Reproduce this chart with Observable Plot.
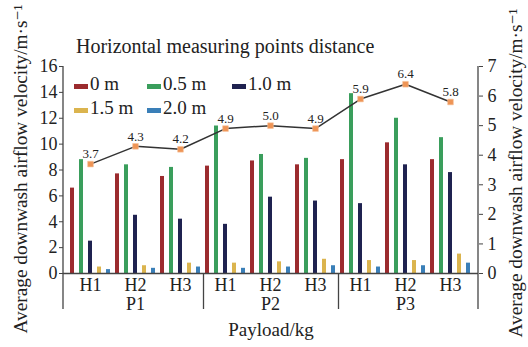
<!DOCTYPE html>
<html>
<head>
<meta charset="utf-8">
<script src="https://cdn.jsdelivr.net/npm/d3@7"></script>
<script src="https://cdn.jsdelivr.net/npm/@observablehq/plot@0.6"></script>
<style>
  html, body { margin: 0; padding: 0; background: #fff; }
  #chart { position: relative; width: 528px; height: 347px; font-family: "Liberation Serif", "DejaVu Serif", serif; color: #222; }
  #chart svg { display: block; }
  .title { position: absolute; left: 76px; top: 35px; font-size: 20px; white-space: nowrap; }
  .legend { position: absolute; left: 74px; top: 72px; font-size: 19px; }
  .legend .row { display: flex; height: 24px; align-items: center; }
  .legend .item { display: flex; align-items: center; white-space: nowrap; }
  .legend .sw { width: 14px; height: 5px; margin-right: 2px; margin-top: 4px; }
</style>
</head>
<body>
<div id="chart"></div>
<script>
// Payload levels, measuring heights and horizontal distances of the measuring points
const payloads = ["P1", "P2", "P3"];
const heights = ["H1", "H2", "H3"];
const distances = ["0 m", "0.5 m", "1.0 m", "1.5 m", "2.0 m"];
const colors = ["#9b2b2e", "#3a9e5c", "#1f2250", "#dbb44e", "#3a7fb8"];

// Downwash airflow velocity (m/s) per distance, ordered P1H1..P1H3, P2H1..P2H3, P3H1..P3H3
const v0m = [6.6, 7.7, 7.5, 8.3, 8.7, 8.4, 8.8, 10.1, 8.8];
const v05m = [8.8, 8.4, 8.2, 11.4, 9.2, 8.9, 13.9, 12.0, 10.5];
const v10m = [2.5, 4.5, 4.2, 3.8, 5.9, 5.6, 5.4, 8.4, 7.8];
const v15m = [0.5, 0.6, 0.8, 0.8, 0.9, 1.1, 1.0, 1.0, 1.5];
const v20m = [0.3, 0.4, 0.5, 0.4, 0.5, 0.6, 0.5, 0.6, 0.8];

// Average downwash airflow velocity (m/s) per payload/height group, right axis
const average = [3.7, 4.3, 4.2, 4.9, 5.0, 4.9, 5.9, 6.4, 5.8];

const leftTicks = [0, 2, 4, 6, 8, 10, 12, 14, 16];
const rightTicks = [0, 1, 2, 3, 4, 5, 6, 7];
const leftMax = 16, rightMax = 7;
const toLeft = v => v * leftMax / rightMax;

const series = [v0m, v05m, v10m, v15m, v20m];
const groups = payloads.flatMap(p => heights.map(h => ({p, h})));
const key = (p, h, d) => `${p}|${h}|${d}`;

const bars = groups.flatMap((g, i) =>
  distances.map((d, j) => ({key: key(g.p, g.h, d), distance: d, value: series[j][i]})));
const xDomain = bars.map(b => b.key);
const centerDist = distances[2];
const points = groups.map((g, i) => ({key: key(g.p, g.h, centerDist), value: average[i]}));

// Boundaries between payload groups: last bar of one group, first bar of the next
const seps = payloads.slice(1).map((p, i) => [
  key(payloads[i], heights[heights.length - 1], distances[distances.length - 1]),
  key(p, heights[0], distances[0])
]);

// Vertical axis lines extended below the category labels, plus group separators
function frameLines(index, scales, values, dims) {
  const x = scales.x;
  const bw = typeof x.bandwidth === "function" ? x.bandwidth() : 0;
  const top = dims.marginTop, bottom = dims.height - dims.marginBottom;
  const left = dims.marginLeft, right = dims.width - dims.marginRight;
  const drop = 36;
  const g = d3.create("svg:g").attr("stroke", "#444").attr("stroke-width", 1.3);
  for (const xx of [left, right]) {
    g.append("line").attr("x1", xx).attr("x2", xx).attr("y1", top).attr("y2", bottom + drop);
  }
  for (const [a, b] of seps) {
    const xx = Math.round((x(a) + bw + x(b)) / 2) + 0.5;
    g.append("line").attr("x1", xx).attr("x2", xx).attr("y1", bottom).attr("y2", bottom + drop);
  }
  return g.node();
}

const axisTitle = "Average downwash airflow velocity/m·s⁻¹";

const plot = Plot.plot({
  width: 528,
  height: 347,
  marginLeft: 63,
  marginRight: 50,
  marginTop: 66,
  marginBottom: 74,
  style: {fontFamily: "'Liberation Serif', 'DejaVu Serif', serif", fontSize: "18px", color: "#222", background: "#fff"},
  x: {type: "band", domain: xDomain, paddingInner: 0.55, paddingOuter: 0.275, axis: null},
  y: {domain: [0, leftMax], axis: null},
  color: {domain: distances, range: colors},
  marks: [
    Plot.barY(bars, {x: "key", y: "value", fill: "distance"}),
    Plot.ruleY([0], {stroke: "#444", strokeWidth: 1.3}),
    frameLines,
    Plot.axisY({anchor: "left", ticks: leftTicks, tickSize: 4, tickPadding: 2, label: null, stroke: "#444"}),
    Plot.axisY({anchor: "right", ticks: rightTicks.map(toLeft), tickFormat: d => Math.round(d * rightMax / leftMax), tickSize: 4, tickPadding: 5, label: null, stroke: "#444"}),
    Plot.axisX({ticks: groups.map(g => key(g.p, g.h, centerDist)), tickFormat: k => k.split("|")[1], tickSize: 0, tickPadding: 5, label: null}),
    Plot.axisX({ticks: payloads.map(p => key(p, heights[1], centerDist)), tickFormat: k => k.split("|")[0], tickSize: 0, tickPadding: 24, label: null}),
    Plot.line(points, {x: "key", y: d => toLeft(d.value), stroke: "#333", strokeWidth: 1.5}),
    Plot.dot(points, {x: "key", y: d => toLeft(d.value), symbol: "square", r: 3.2, fill: "#ee9455", stroke: "#f6c39b", strokeWidth: 0.6}),
    Plot.text(points, {x: "key", y: d => toLeft(d.value), text: d => d.value.toFixed(1), dy: -10, fontSize: 13}),
    Plot.text([axisTitle], {frameAnchor: "left", textAnchor: "middle", rotate: -90, dx: -43, dy: -1, fontSize: 19.3}),
    Plot.text([axisTitle], {frameAnchor: "right", textAnchor: "middle", rotate: -90, dx: 37, dy: 3, fontSize: 19.3}),
    Plot.text(["Payload/kg"], {frameAnchor: "bottom", dy: 62, fontSize: 19})
  ]
});

const chart = document.getElementById("chart");
chart.appendChild(plot);

const title = document.createElement("div");
title.className = "title";
title.textContent = "Horizontal measuring points distance";
chart.appendChild(title);

// Legend: three swatches on the first row, two on the second
const legend = document.createElement("div");
legend.className = "legend";
const rows = [distances.slice(0, 3), distances.slice(3)];
const widths = [73, 85];
rows.forEach(r => {
  const row = document.createElement("div");
  row.className = "row";
  r.forEach((d, i) => {
    const item = document.createElement("div");
    item.className = "item";
    if (i < r.length - 1) item.style.width = widths[i] + "px";
    const sw = document.createElement("span");
    sw.className = "sw";
    sw.style.background = colors[distances.indexOf(d)];
    item.appendChild(sw);
    item.appendChild(document.createTextNode(d));
    row.appendChild(item);
  });
  legend.appendChild(row);
});
chart.appendChild(legend);
</script>
</body>
</html>
